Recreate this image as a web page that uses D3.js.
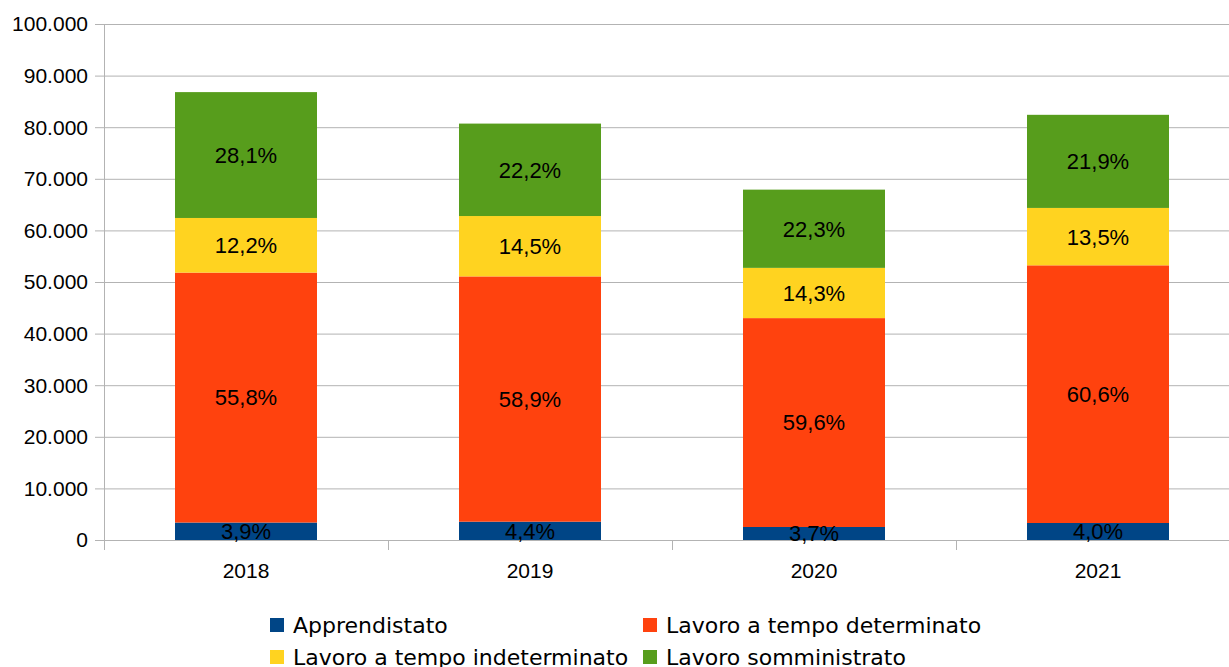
<!DOCTYPE html>
<html>
<head>
<meta charset="utf-8">
<script src="https://cdn.jsdelivr.net/npm/d3@7"></script>
<style>
  body { margin: 0; background: #fff; }
  svg { display: block; }
</style>
</head>
<body>
<div id="chart"></div>
<script>
// dati: contratti per anno
const years = ["2018", "2019", "2020", "2021"];
const apprendistato = [3385, 3551, 2522, 3296];
const determinato = [48434, 47532, 40480, 49934];
const indeterminato = [10590, 11702, 9736, 11124];
const somministrato = [24391, 17915, 15162, 18046];
const seriesNames = ["Apprendistato", "Lavoro a tempo determinato", "Lavoro a tempo indeterminato", "Lavoro somministrato"];
const yTicks = [0, 10000, 20000, 30000, 40000, 50000, 60000, 70000, 80000, 90000, 100000];

const width = 1229, height = 667;
const margin = { top: 24, right: -11, bottom: 127, left: 104 };
const innerWidth = width - margin.left - margin.right;
const innerHeight = height - margin.top - margin.bottom;

const keys = ["app", "det", "ind", "som"];
const data = years.map((y, i) => ({
  year: y, app: apprendistato[i], det: determinato[i], ind: indeterminato[i], som: somministrato[i]
}));
data.forEach(d => { d.total = d.app + d.det + d.ind + d.som; });

const series = d3.stack().keys(keys)(data);

const colors = d3.scaleOrdinal().domain(keys).range(["#004586", "#ff420e", "#ffd320", "#579d1c"]);

const xScale = d3.scaleBand().domain(years).range([0, innerWidth]).paddingInner(0).paddingOuter(0);
const yScale = d3.scaleLinear().domain([0, 100000]).range([innerHeight, 0]);

const fmt = d3.formatLocale({ decimal: ",", thousands: ".", grouping: [3], currency: ["€", ""] });

const svg = d3.select("#chart").append("svg").attr("width", width).attr("height", height);
const g = svg.append("g").attr("transform", `translate(${margin.left},${margin.top})`);

// griglia
g.append("g").selectAll("line").data(yTicks).enter().append("line")
  .attr("x1", -9).attr("x2", innerWidth)
  .attr("y1", d => yScale(d) + 0.5).attr("y2", d => yScale(d) + 0.5)
  .attr("stroke", "#b3b3b3").attr("stroke-width", 1);

// etichette asse y
g.append("g").selectAll("text").data(yTicks).enter().append("text")
  .attr("x", -16).attr("y", d => yScale(d))
  .attr("dy", "0.35em")
  .attr("text-anchor", "end")
  .style("font-family", "Liberation Sans, Arial, sans-serif")
  .style("font-size", "21px").attr("fill", "#000")
  .text(d => fmt.format(",d")(d));

// barre
const barW = 142;
const grp = g.selectAll("g.serie").data(series).enter().append("g")
  .attr("class", "serie").attr("fill", d => colors(d.key));
grp.selectAll("rect").data(d => d).enter().append("rect")
  .attr("x", d => xScale(d.data.year) + (xScale.bandwidth() - barW) / 2)
  .attr("y", d => yScale(d[1]))
  .attr("width", barW)
  .attr("height", d => yScale(d[0]) - yScale(d[1]));

// assi
g.append("line").attr("x1", 0.5).attr("x2", 0.5).attr("y1", 0).attr("y2", innerHeight + 10)
  .attr("stroke", "#b3b3b3");
g.append("g").selectAll("line").data(years.slice(1)).enter().append("line")
  .attr("x1", d => xScale(d) + 0.5).attr("x2", d => xScale(d) + 0.5)
  .attr("y1", innerHeight).attr("y2", innerHeight + 10)
  .attr("stroke", "#b3b3b3");

// etichette percentuali
series.forEach(s => {
  g.append("g").selectAll("text").data(s).enter().append("text")
    .attr("x", d => xScale(d.data.year) + xScale.bandwidth() / 2)
    .attr("y", d => (yScale(d[0]) + yScale(d[1])) / 2)
    .attr("dy", "0.36em")
    .attr("text-anchor", "middle")
    .style("font-family", "Liberation Sans, Arial, sans-serif")
    .style("font-size", "22px").attr("fill", "#000")
    .text(d => ((d[1] - d[0]) / d.data.total * 100).toFixed(1).replace(".", ",") + "%");
});

// etichette anni
g.append("g").selectAll("text").data(years).enter().append("text")
  .attr("x", d => xScale(d) + xScale.bandwidth() / 2)
  .attr("y", innerHeight + 38)
  .attr("text-anchor", "middle")
  .style("font-family", "Liberation Sans, Arial, sans-serif")
  .style("font-size", "21px").attr("fill", "#000")
  .text(d => d);

// legenda
const legPos = [[270, 618], [643, 618], [270, 650], [643, 650]];
const legend = svg.append("g").selectAll("g").data(keys).enter().append("g")
  .attr("transform", (d, i) => `translate(${legPos[i][0]},${legPos[i][1]})`);
legend.append("rect").attr("width", 14).attr("height", 14).attr("fill", d => colors(d));
legend.append("text").attr("x", 23).attr("y", 15)
  .style("font-family", "DejaVu Sans, sans-serif")
  .style("font-size", "22px").attr("fill", "#000")
  .text((d, i) => seriesNames[i]);
</script>
</body>
</html>
